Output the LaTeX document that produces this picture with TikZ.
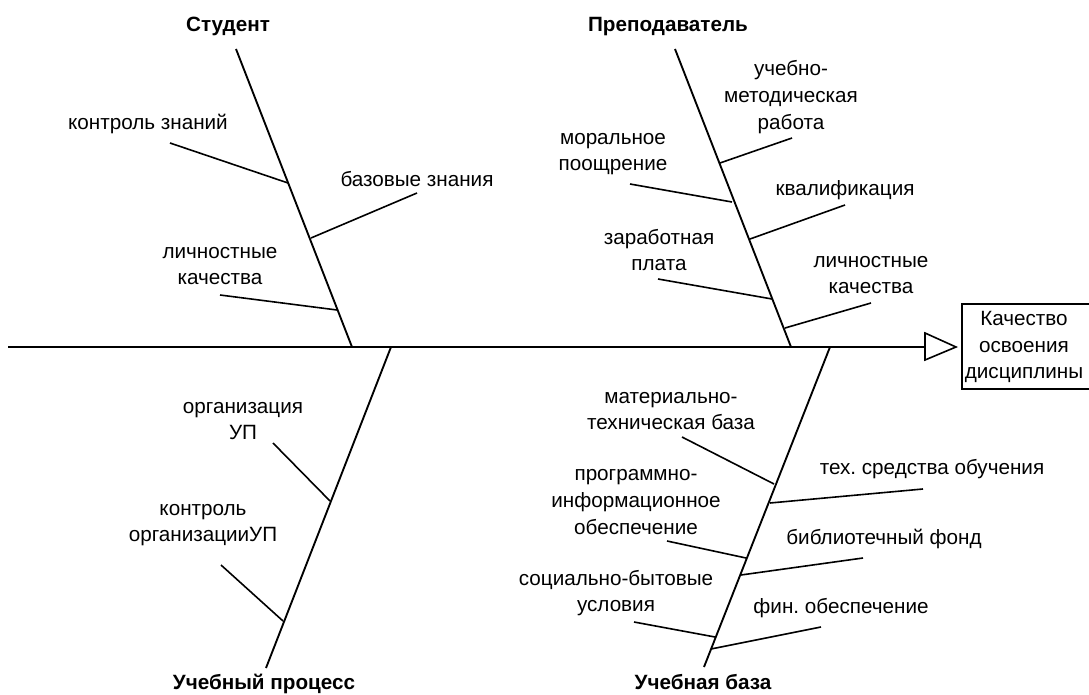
\documentclass[tikz,border=0pt]{standalone}
\usepackage{fontspec}
\setmainfont{Liberation Sans}
\usetikzlibrary{positioning, calc}
\frenchspacing

\begin{document}
\begin{tikzpicture}[x=0.75pt, y=-0.75pt,
        bone/.style={line width=1.4pt},
        rib/.style={line width=1.2pt},
        cause/.style={align=center, inner sep=0pt, font=\fontsize{15.5pt}{20pt}\selectfont},
        group/.style={anchor=base, inner sep=0pt, font=\fontsize{15.5pt}{20pt}\selectfont\bfseries}]
        \useasboundingbox (0,0) rectangle (1089,695);

        % the spine
        \coordinate (S0) at (8,347);
        \coordinate (S1) at (925,347);
        \coordinate (T1) at (925,333);
        \coordinate (T2) at (956,347);
        \coordinate (T3) at (925,360);
        \draw [bone] (S0) -- (S1);
        \draw [line width=1.2pt, line join=miter] (T1) -- (T2) -- (T3) -- cycle;

        % the effect
        \coordinate (E1) at (962,304);
        \coordinate (E2) at (1100,389);
        \draw [line width=1pt] (E1) rectangle (E2);
        \node[cause] (effect) at (1024,347) {Качество\\освоения\\дисциплины};

        % student
        \node[group] (student) at (228,32) {Студент};
        \coordinate (A0) at (236,49);
        \coordinate (A1) at (352,347);
        \draw [bone] (A0) -- (A1);
        \coordinate (a1) at (170,143);
        \coordinate (a1r) at (288,183);
        \coordinate (a2) at (417,193);
        \coordinate (a2r) at (311,238);
        \coordinate (a3) at (220,295);
        \coordinate (a3r) at (337,310);
        \draw [rib] (a1) -- (a1r);
        \draw [rib] (a2) -- (a2r);
        \draw [rib] (a3) -- (a3r);
        \node[cause] (control) at (148,124) {контроль знаний};
        \node[cause] (basics) at (417,179) {базовые знания};
        \node[cause] (personalA) at (220,266) {личностные\\качества};

        % teacher
        \node[group] (teacher) at (668,32) {Преподаватель};
        \coordinate (B0) at (675,49);
        \coordinate (B1) at (791,347);
        \draw [bone] (B0) -- (B1);
        \coordinate (b1) at (792,138);
        \coordinate (b1r) at (720,163);
        \coordinate (b2) at (630,184);
        \coordinate (b2r) at (732,202);
        \coordinate (b3) at (845,205);
        \coordinate (b3r) at (750,239);
        \coordinate (b4) at (658,279);
        \coordinate (b4r) at (772,299);
        \coordinate (b5) at (871,303);
        \coordinate (b5r) at (785,328);
        \draw [rib] (b1) -- (b1r);
        \draw [rib] (b2) -- (b2r);
        \draw [rib] (b3) -- (b3r);
        \draw [rib] (b4) -- (b4r);
        \draw [rib] (b5) -- (b5r);
        \node[cause] (method) at (791,97) {учебно-\\методическая\\работа};
        \node[cause] (moral) at (613,154) {моральное\\поощрение};
        \node[cause] (qualif) at (845,190) {квалификация};
        \node[cause] (salary) at (659,250) {заработная\\плата};
        \node[cause] (personalB) at (871,275) {личностные\\качества};

        % process
        \node[group] (process) at (264,689) {Учебный процесс};
        \coordinate (C0) at (391,347);
        \coordinate (C1) at (266,668);
        \draw [bone] (C0) -- (C1);
        \coordinate (c1) at (273,443);
        \coordinate (c1r) at (330,501);
        \coordinate (c2) at (221,565);
        \coordinate (c2r) at (283,621);
        \draw [rib] (c1) -- (c1r);
        \draw [rib] (c2) -- (c2r);
        \node[cause] (organize) at (243,421) {организация\\УП};
        \node[cause] (check) at (203,525) {контроль\\организацииУП};

        % base
        \node[group] (base) at (703,689) {Учебная база};
        \coordinate (D0) at (830,347);
        \coordinate (D1) at (704,667);
        \draw [bone] (D0) -- (D1);
        \coordinate (d1) at (682,437);
        \coordinate (d1r) at (774,484);
        \coordinate (d2) at (923,489);
        \coordinate (d2r) at (770,503);
        \coordinate (d3) at (667,541);
        \coordinate (d3r) at (746,558);
        \coordinate (d4) at (863,558);
        \coordinate (d4r) at (741,575);
        \coordinate (d5) at (634,622);
        \coordinate (d5r) at (715,637);
        \coordinate (d6) at (821,627);
        \coordinate (d6r) at (711,649);
        \draw [rib] (d1) -- (d1r);
        \draw [rib] (d2) -- (d2r);
        \draw [rib] (d3) -- (d3r);
        \draw [rib] (d4) -- (d4r);
        \draw [rib] (d5) -- (d5r);
        \draw [rib] (d6) -- (d6r);
        \node[cause] (material) at (671,411) {материально-\\техническая база};
        \node[cause] (tech) at (932,469) {тех. средства обучения};
        \node[cause] (software) at (636,502) {программно-\\информационное\\обеспечение};
        \node[cause] (library) at (884,539) {библиотечный фонд};
        \node[cause] (social) at (616,593) {социально-бытовые\\условия};
        \node[cause] (finance) at (841,608) {фин. обеспечение};
    \end{tikzpicture}
\end{document}
